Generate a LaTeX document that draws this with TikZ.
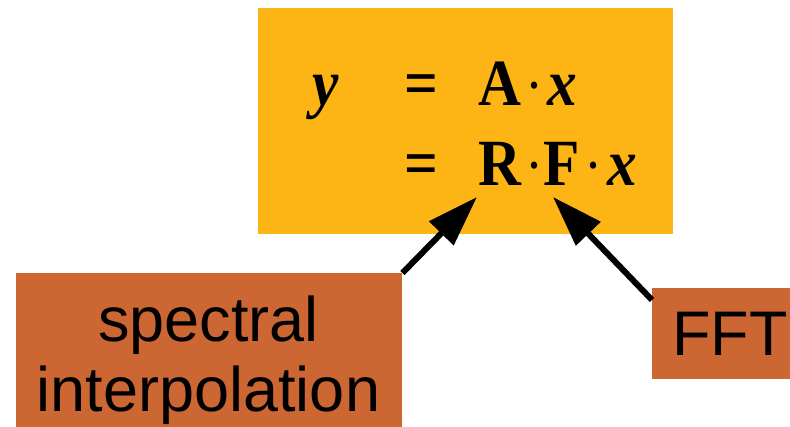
\documentclass[tikz,border=0pt]{standalone}
\usepackage{fontspec}
\setmainfont{Liberation Sans}
\newfontfamily\eqfont[FakeStretch=0.9]{Liberation Serif}
\usetikzlibrary{arrows.meta}
\definecolor{eqyellow}{RGB}{253,180,21}
\definecolor{boxbrown}{RGB}{204,102,51}
\tikzset{
  panel/.style={fill=#1, draw=none, inner sep=0pt, anchor=north west},
  lbl/.style={font=\fontsize{63}{70}\selectfont, inner sep=0pt, anchor=base},
  eq/.style={font=\fontsize{66}{80}\selectfont\eqfont\bfseries, inner sep=0pt, anchor=base},
  eqi/.style={eq, font=\fontsize{66}{80}\selectfont\eqfont\bfseries\itshape},
  eqdot/.style={eq, font=\fontsize{60}{80}\selectfont\eqfont},
  pointer/.style={line width=6pt, -{Triangle[length=51pt,width=33pt]}},
}
\begin{document}
\begin{tikzpicture}[x=1pt,y=-1pt]
\useasboundingbox (0,0) rectangle (790,427);
\node[panel=eqyellow, minimum width=415pt, minimum height=226pt] (eqbox) at (258,8) {};
\node[panel=boxbrown, minimum width=386pt, minimum height=154pt] (sp) at (16,273) {};
\node[panel=boxbrown, minimum width=138pt, minimum height=91pt] (fft) at (652,288) {};
% equation
\node[eqi] (y) at (325.5,106) {y};
\node[eq] (eq1) at (421.5,106) {=};
\node[eq] (A) at (500,106) {A};
\node[eqdot] (d1) at (534,106) {·};
\node[eqi] (x1) at (562.5,106) {x};
\node[eq] (eq2) at (421.5,186) {=};
\node[eq] (R) at (500,186) {R};
\node[eqdot] (d2) at (534,186) {·};
\node[eq] (F) at (562,186) {F};
\node[eqdot] (d3) at (593,186) {·};
\node[eqi] (x2) at (622.5,186) {x};
% labels
\node[lbl] (sptext1) at (208.5,342) {spectral};
\node[lbl] (sptext2) at (208.5,412) {interpolation};
\node[lbl] (ffttext) at (730,356) {FFT};
% arrows
\coordinate (tipR) at (477,197);
\coordinate (tipF) at (553,197);
\coordinate (fftstart) at (652,300);
\draw[pointer] (sp.north east) -- (tipR);
\draw[pointer] (fftstart) -- (tipF);
\end{tikzpicture}
\end{document}
